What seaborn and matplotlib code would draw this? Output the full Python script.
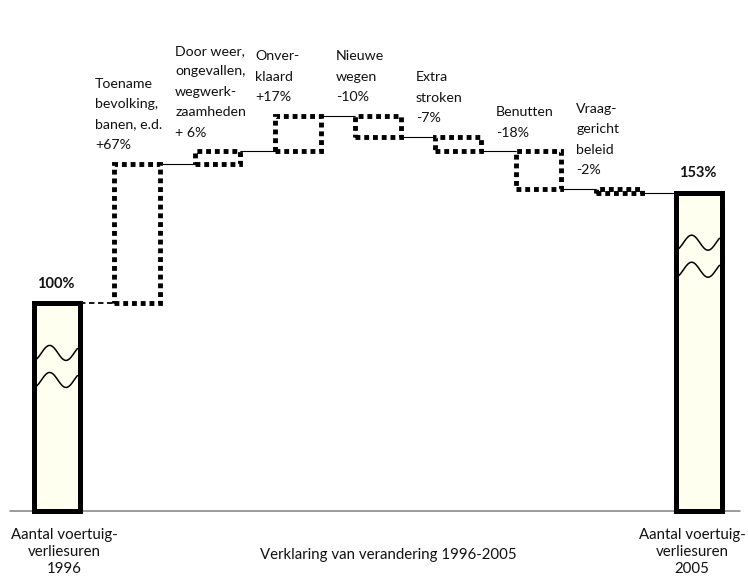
import numpy as np
import pandas as pd
import matplotlib.pyplot as plt
import seaborn as sns

sns.set_theme(style='white')
plt.rcParams['font.family'] = ['Lato', 'DejaVu Sans']

# ── data ───────────────────────────────────────────────────────────────────
start_value = 100
end_value = 153
step_labels = [
    'Toename\nbevolking,\nbanen, e.d.\n+67%',
    'Door weer,\nongevallen,\nwegwerk-\nzaamheden\n+ 6%',
    'Onver-\nklaard\n+17%',
    'Nieuwe\nwegen\n-10%',
    'Extra\nstroken\n-7%',
    'Benutten\n-18%',
    'Vraag-\ngericht\nbeleid\n-2%',
]
step_changes = [67, 6, 17, -10, -7, -18, -2]
start_label = 'Aantal voertuig-\nverliesuren\n1996'
end_label = 'Aantal voertuig-\nverliesuren\n2005'
middle_label = 'Verklaring van verandering 1996-2005'

categories = ['1996'] + [f'step{i}' for i in range(len(step_changes))] + ['2005']
totals = pd.DataFrame({'cat': ['1996', '2005'], 'value': [start_value, end_value]})

# running levels of the waterfall
levels = start_value + np.cumsum(step_changes)
prev = np.concatenate([[start_value], levels[:-1]])
bottoms = np.minimum(prev, levels)
heights = np.abs(step_changes)
all_levels = np.concatenate([[start_value], levels])

# ── plot ───────────────────────────────────────────────────────────────────
W = 0.57
fig = plt.figure(figsize=(7.48, 5.8), dpi=100)
ax = fig.add_axes([0, 0, 1, 1])

ax.axhline(0, xmin=10 / 748, xmax=740 / 748, color='#808080', lw=1.1, zorder=1)

sns.barplot(data=totals, x='cat', y='value', order=categories, ax=ax,
            color='#fffff0', saturation=1, width=W,
            edgecolor='black', linewidth=3.6, zorder=3)

xs = np.arange(1, len(step_changes) + 1)
ax.bar(xs, heights, bottom=bottoms, width=W, facecolor='white',
       edgecolor='black', linewidth=3.5, linestyle=(0, (1, 0.8)), zorder=3)

# connectors between the boxes
for i, lvl in enumerate(all_levels):
    ls = (0, (3, 2)) if i == 0 else '-'
    lw = 1.3 if i == 0 else 0.8
    ax.plot([i + W / 2, i + 1 - W / 2], [lvl, lvl], color='black',
            lw=lw, linestyle=ls, zorder=2)

# labels above the boxes
for x, lab, lo, h in zip(xs, step_labels, bottoms, heights):
    ax.annotate(lab, xy=(x - W / 2, lo + h), xytext=(-14, 9),
                textcoords='offset points', ha='left', va='bottom',
                fontsize=10.2, linespacing=1.85, color='#111111')

# totals: value labels, axis-break waves, bottom captions
end_pos = len(categories) - 1
for pos, val, cap, dx in [(0, start_value, start_label, 5),
                          (end_pos, end_value, end_label, -5)]:
    ax.annotate(f'{val}%', xy=(pos, val), xytext=(-1, 9),
                textcoords='offset points', ha='center', va='bottom',
                fontsize=10.5, fontweight='bold', color='#111111')
    t = np.linspace(0, 1, 120)
    wx = pos - W / 2 + 0.03 + t * (W - 0.06)
    for off in (24, 37):
        wy = val - off + 3.6 * np.sin(np.pi / 2 + 2 * np.pi * (t - 0.32) / 0.8)
        ax.plot(wx, wy, color='black', lw=1.1, zorder=4)
    ax.annotate(cap, xy=(pos, 0), xytext=(dx, -12), textcoords='offset points',
                ha='center', va='top', fontsize=10.8, linespacing=1.3,
                color='#111111')

ax.annotate(middle_label, xy=(0.519, 0), xycoords=('axes fraction', 'data'),
            xytext=(0, -32), textcoords='offset points', ha='center',
            va='center', fontsize=10.8, color='#111111')

ax.set_xlim(-57 / 80.25, (748 - 57) / 80.25)
ax.set_ylim(-69 / 2.08, 511 / 2.08)
ax.axis('off')

fig.savefig('out.png', dpi=100)
